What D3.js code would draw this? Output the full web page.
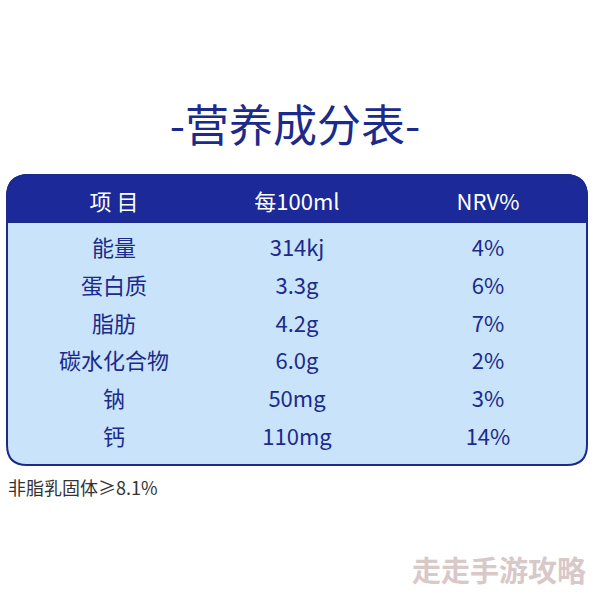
<!DOCTYPE html>
<html><head><meta charset="utf-8">
<script src="https://cdn.jsdelivr.net/npm/d3@7"></script>
<style>body{margin:0;background:#fff}svg{display:block;font-family:"Noto Sans CJK SC","Noto Sans",sans-serif}</style>
</head><body><svg id="c" width="594" height="594"></svg>
<script>
const headers = ["项 目", "每100ml", "NRV%"];
const items = ["能量", "蛋白质", "脂肪", "碳水化合物", "钠", "钙"];
const amounts = ["314kj", "3.3g", "4.2g", "6.0g", "50mg", "110mg"];
const nrv = ["4%", "6%", "7%", "2%", "3%", "14%"];

const svg = d3.select("#c");
const navy = "#1c2a8c";
const x = d3.scalePoint().domain(headers).range([114, 488]).padding(0);
const xc = h => h === headers[1] ? 297 : x(h);
const y = d3.scaleBand().domain(d3.range(items.length)).range([229, 456]);

svg.append("text").attr("x", 295).attr("y", 142).attr("text-anchor", "middle")
  .attr("font-size", 44).attr("fill", navy).text("-营养成分表-");

const L = 7, R = 587, T = 175, B = 465, r1 = 22, r2 = 20, H = 222;
svg.append("path").attr("d",
  `M${L},${T+r1} Q${L},${T} ${L+r1},${T} L${R-r1},${T} Q${R},${T} ${R},${T+r1} L${R},${B-r2} Q${R},${B} ${R-r2},${B} L${L+r2},${B} Q${L},${B} ${L},${B-r2} Z`)
  .attr("fill", "#c9e4fa").attr("stroke", navy).attr("stroke-width", 2);
svg.append("path").attr("d",
  `M${L},${H} L${L},${T+r1} Q${L},${T} ${L+r1},${T} L${R-r1},${T} Q${R},${T} ${R},${T+r1} L${R},${H} Z`)
  .attr("fill", "#1b2a98").attr("stroke", navy).attr("stroke-width", 2);

svg.selectAll(".h").data(headers).join("text").attr("x", d => xc(d)).attr("y", 210)
  .attr("text-anchor", "middle").attr("font-size", 22).attr("fill", "#fff").attr("xml:space", "preserve").text(d => d);

const cols = [items, amounts, nrv];
cols.forEach((col, ci) => {
  svg.selectAll(".c" + ci).data(col).join("text")
    .attr("x", xc(headers[ci])).attr("y", (d, i) => y(i) + y.bandwidth() / 2 + 8)
    .attr("text-anchor", "middle").attr("font-size", 22).attr("fill", navy).text(d => d);
});

svg.append("text").attr("x", 8).attr("y", 495).attr("font-size", 18).attr("fill", "#333").text("非脂乳固体≥8.1%");
svg.append("text").attr("x", 586).attr("y", 582).attr("text-anchor", "end").attr("font-size", 29)
  .attr("font-weight", "bold").attr("fill", "#d8c8c8").text("走走手游攻略");
</script></body></html>
